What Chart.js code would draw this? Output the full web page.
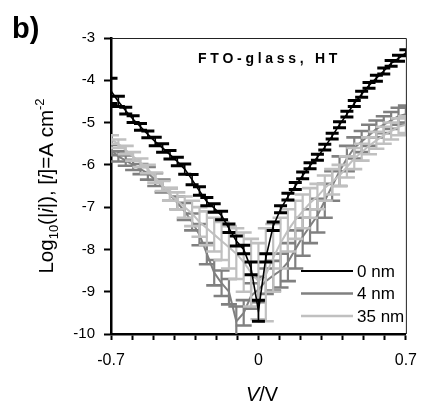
<!DOCTYPE html>
<html>
<head>
<meta charset="utf-8">
<script src="https://cdn.jsdelivr.net/npm/chart.js@4.4.0/dist/chart.umd.min.js"></script>
<style>
  html, body { margin: 0; padding: 0; background: #fff; }
  #wrap { width: 428px; height: 406px; }
</style>
</head>
<body>
<div id="wrap"><canvas id="ivChart" width="428" height="406"></canvas></div>
<script>
// ========== DATA ==========
// potential V (V)
const voltage = [-0.7, -0.665, -0.63, -0.595, -0.56, -0.525, -0.49, -0.455, -0.42, -0.385,
  -0.35, -0.315, -0.28, -0.245, -0.21, -0.175, -0.14, -0.105, -0.07, -0.035,
  0, 0.035, 0.07, 0.105, 0.14, 0.175, 0.21, 0.245, 0.28, 0.315,
  0.35, 0.385, 0.42, 0.455, 0.49, 0.525, 0.56, 0.595, 0.63, 0.665, 0.7];

// log10(|i|), one list per film thickness
const log_0nm = [-4.25, -4.5, -4.72, -4.92, -5.1, -5.28, -5.45, -5.6, -5.76, -5.92,
  -6.1, -6.35, -6.62, -6.87, -7.02, -7.2, -7.5, -7.8, -8.0, -8.45,
  -9.45, -8.2, -7.45, -7.05, -6.75, -6.5, -6.25, -6.02, -5.82, -5.58,
  -5.32, -5.05, -4.8, -4.55, -4.33, -4.12, -3.95, -3.78, -3.6, -3.48, -3.35];
const log_4nm = [-5.65, -5.8, -5.9, -6.0, -6.1, -6.2, -6.35, -6.5, -6.7, -6.9,
  -7.1, -7.35, -7.65, -8.1, -8.55, -8.8, -9.0, -9.7, -9.5, -9.1,
  -8.95, -8.75, -8.62, -8.5, -8.3, -8.0, -7.7, -7.45, -7.2, -6.85,
  -6.5, -6.15, -5.85, -5.6, -5.45, -5.3, -5.15, -5.05, -4.95, -4.85, -4.8];
const log_35nm = [-5.4, -5.5, -5.65, -5.8, -5.95, -6.1, -6.3, -6.5, -6.7, -6.85,
  -7.0, -7.15, -7.35, -7.5, -7.65, -7.8, -7.95, -8.1, -8.3, -8.55,
  -8.75, -8.6, -8.2, -7.85, -7.55, -7.3, -7.1, -6.9, -6.75, -6.55,
  -6.4, -6.25, -6.05, -5.85, -5.7, -5.55, -5.42, -5.3, -5.2, -5.1, -5.05];

// error bar half heights
const err_0nm = [0.3, 0.12, 0.08, 0.08, 0.08, 0.08, 0.1, 0.1, 0.1, 0.1,
  0.12, 0.12, 0.1, 0.1, 0.1, 0.1, 0.1, 0.12, 0.1, 0.15,
  0.25, 0.1, 0.1, 0.08, 0.08, 0.08, 0.08, 0.07, 0.07, 0.07,
  0.07, 0.07, 0.07, 0.07, 0.07, 0.07, 0.07, 0.07, 0.07, 0.07, 0.07];
const err_4nm = [0.12, 0.12, 0.12, 0.12, 0.12, 0.15, 0.15, 0.15, 0.15, 0.15,
  0.2, 0.2, 0.25, 0.25, 0.3, 0.3, 0.3, 0.35, 0.3, 0.3,
  0.3, 0.3, 0.35, 0.4, 0.45, 0.45, 0.45, 0.4, 0.4, 0.4,
  0.35, 0.35, 0.3, 0.25, 0.25, 0.25, 0.2, 0.2, 0.2, 0.2, 0.2];
const err_35nm = [0.1, 0.1, 0.1, 0.1, 0.1, 0.1, 0.12, 0.12, 0.15, 0.2,
  0.25, 0.3, 0.35, 0.4, 0.4, 0.45, 0.5, 0.6, 0.7, 0.8,
  0.9, 1.1, 0.8, 0.6, 0.5, 0.45, 0.4, 0.35, 0.3, 0.3,
  0.3, 0.25, 0.25, 0.25, 0.2, 0.2, 0.2, 0.2, 0.2, 0.2, 0.2];

const seriesNames = ["0 nm", "4 nm", "35 nm"];
const seriesColors = ["#000000", "#808080", "#c0c0c0"];
const xTickLabels = ["-0.7", "0", "0.7"];

const FONT = "'Liberation Sans', Arial, sans-serif";

function toPoints(ys) {
  return voltage.map((v, i) => ({ x: v, y: ys[i] }));
}

// ========== ERROR BARS ==========
const errorBars = {
  id: "errorBars",
  afterDatasetDraw(chart, args) {
    const ds = chart.data.datasets[args.index];
    if (!ds.errors) return;
    const { ctx, chartArea, scales } = chart;
    ctx.save();
    ctx.beginPath();
    ctx.rect(chartArea.left, chartArea.top, chartArea.right - chartArea.left, chartArea.bottom - chartArea.top);
    ctx.clip();
    ctx.strokeStyle = ds.borderColor;
    ds.data.forEach((p, i) => {
      const e = ds.errors[i];
      const px = scales.x.getPixelForValue(p.x);
      const top = scales.y.getPixelForValue(p.y + e);
      const bot = scales.y.getPixelForValue(p.y - e);
      ctx.lineWidth = ds.stemWidth;
      ctx.beginPath();
      ctx.moveTo(px, top);
      ctx.lineTo(px, bot);
      ctx.stroke();
      ctx.lineWidth = ds.capThick;
      ctx.beginPath();
      ctx.moveTo(px - ds.capHalf, top);
      ctx.lineTo(px + ds.capHalf, top);
      ctx.moveTo(px - ds.capHalf, bot);
      ctx.lineTo(px + ds.capHalf, bot);
      ctx.stroke();
    });
    ctx.restore();
  },
};

// ========== FRAME, TITLES, LEGEND ==========
const decorations = {
  id: "decorations",
  afterDraw(chart) {
    const { ctx, chartArea: a } = chart;
    ctx.save();
    // top and right frame
    ctx.strokeStyle = "#222";
    ctx.lineWidth = 1;
    ctx.beginPath();
    ctx.moveTo(a.left, a.top + 0.5);
    ctx.lineTo(a.right + 0.5, a.top + 0.5);
    ctx.lineTo(a.right + 0.5, a.bottom);
    ctx.stroke();

    ctx.fillStyle = "#000";
    // panel letter
    ctx.font = "bold 29px " + FONT;
    ctx.textAlign = "left";
    ctx.textBaseline = "alphabetic";
    ctx.fillText("b)", 12, 38);

    // sample label, spaced out
    ctx.font = "bold 14px " + FONT;
    let tx = 198;
    for (const ch of "FTO-glass, HT") {
      ctx.fillText(ch, tx, 63);
      tx += ctx.measureText(ch).width + 3.7;
    }

    // x title: V/V
    ctx.font = "italic 20px " + FONT;
    const wV = ctx.measureText("V").width;
    ctx.font = "20px " + FONT;
    const wRest = ctx.measureText("/V").width;
    let xx = 262 - (wV + wRest) / 2;
    ctx.font = "italic 20px " + FONT;
    ctx.fillText("V", xx, 401);
    ctx.font = "20px " + FONT;
    ctx.fillText("/V", xx + wV, 401);

    // y title, rotated
    const parts = [
      { t: "Log", f: "20.5px", dy: 0 },
      { t: "10", f: "13px", dy: 5 },
      { t: "(|", f: "20.5px", dy: 0 },
      { t: "i", f: "italic 20.5px", dy: 0 },
      { t: "|), [", f: "20.5px", dy: 0 },
      { t: "i", f: "italic 20.5px", dy: 0 },
      { t: "]=A cm", f: "20.5px", dy: 0 },
      { t: "-2", f: "13px", dy: -9 },
    ];
    let total = 0;
    parts.forEach((p) => {
      ctx.font = p.f + " " + FONT;
      p.w = ctx.measureText(p.t).width;
      total += p.w;
    });
    ctx.translate(53, 186);
    ctx.rotate(-Math.PI / 2);
    let px = -total / 2;
    parts.forEach((p) => {
      ctx.font = p.f + " " + FONT;
      ctx.fillText(p.t, px, p.dy);
      px += p.w;
    });
    ctx.setTransform(1, 0, 0, 1, 0, 0);

    // legend
    ctx.font = "17px " + FONT;
    ctx.textBaseline = "middle";
    seriesNames.forEach((name, i) => {
      const ly = 271 + i * 22.5;
      ctx.strokeStyle = seriesColors[i];
      ctx.lineWidth = i === 0 ? 2 : 2.5;
      ctx.beginPath();
      ctx.moveTo(301, ly);
      ctx.lineTo(353, ly);
      ctx.stroke();
      ctx.fillStyle = "#000";
      ctx.fillText(name, 357, ly + 1);
    });
    ctx.restore();
  },
};

// ========== CHART ==========
const lineSets = [
  { idx: 0, ys: log_0nm, errs: err_0nm, order: 0, lw: 1.6, capHalf: 6.5, capThick: 3, stem: 1.6 },
  { idx: 2, ys: log_35nm, errs: err_35nm, order: 1, lw: 2, capHalf: 8, capThick: 2.6, stem: 2.2 },
  { idx: 1, ys: log_4nm, errs: err_4nm, order: 2, lw: 2, capHalf: 8, capThick: 2.6, stem: 2.2 },
];

new Chart(document.getElementById("ivChart"), {
  type: "scatter",
  data: {
    datasets: lineSets.map((s) => ({
      label: seriesNames[s.idx],
      data: toPoints(s.ys),
      errors: s.errs,
      order: s.order,
      showLine: true,
      borderColor: seriesColors[s.idx],
      backgroundColor: seriesColors[s.idx],
      borderWidth: s.lw,
      pointRadius: 0,
      tension: 0,
      capHalf: s.capHalf,
      capThick: s.capThick,
      stemWidth: s.stem,
    })),
  },
  options: {
    responsive: false,
    animation: false,
    devicePixelRatio: 1,
    layout: { padding: { top: 38, right: 13, left: 0, bottom: 0 } },
    plugins: { legend: { display: false }, tooltip: { enabled: false } },
    scales: {
      x: {
        type: "linear",
        min: -0.7,
        max: 0.7,
        afterFit: (s) => { s.height = 72; },
        afterBuildTicks: (s) => {
          const t = [];
          for (let k = -7; k <= 7; k++) t.push({ value: k / 10 });
          s.ticks = t;
        },
        ticks: {
          autoSkip: false,
          maxRotation: 0,
          padding: 11,
          color: "#000",
          font: { family: FONT, size: 16 },
          callback: (v) => {
            const r = Math.round(v * 10);
            if (r === -7) return xTickLabels[0];
            if (r === 0) return xTickLabels[1];
            if (r === 7) return xTickLabels[2];
            return "";
          },
        },
        grid: { drawOnChartArea: false, drawTicks: true, tickLength: 6, tickWidth: 2, color: "#000" },
        border: { display: true, width: 2.5, color: "#000" },
      },
      y: {
        type: "linear",
        min: -10,
        max: -3,
        afterFit: (s) => { s.width = 111; },
        ticks: {
          stepSize: 1,
          padding: 9,
          color: "#000",
          font: { family: FONT, size: 15 },
        },
        grid: { drawOnChartArea: false, drawTicks: true, tickLength: 7, tickWidth: 2, color: "#000" },
        border: { display: true, width: 2.5, color: "#000" },
      },
    },
  },
  plugins: [errorBars, decorations],
});
</script>
</body>
</html>
